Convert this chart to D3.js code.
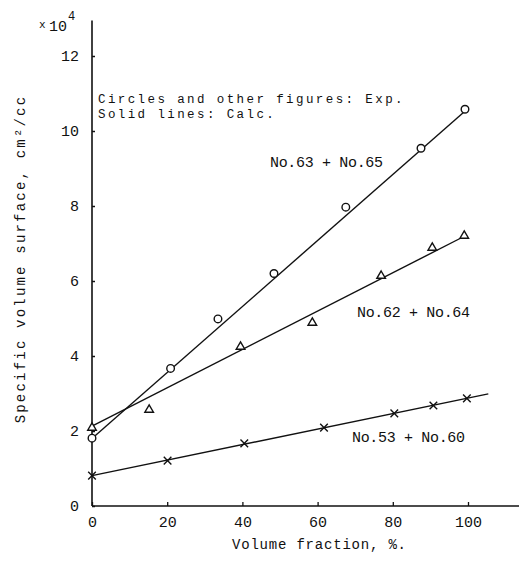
<!DOCTYPE html>
<html>
<head>
<meta charset="utf-8">
<script src="https://cdn.jsdelivr.net/npm/d3@7"></script>
<style>
  body { margin: 0; background: #fff; }
  svg text { font-family: 'Liberation Mono', 'Courier New', monospace; fill: #111; }
</style>
</head>
<body>
<div class="chart"></div>
<script>
// measured points (Exp.)
const circles63 = [[0, 1.81], [20.9, 3.67], [33.5, 4.99], [48.4, 6.2], [67.5, 7.97], [87.5, 9.54], [99.2, 10.58]];
const triangles62 = [[0, 2.11], [15.2, 2.59], [39.5, 4.27], [58.6, 4.91], [76.9, 6.16], [90.5, 6.91], [99, 7.23]];
const crosses53 = [[0, 0.81], [20.1, 1.21], [40.5, 1.67], [61.7, 2.09], [80.4, 2.47], [90.8, 2.68], [99.7, 2.87]];

// calculated lines
const calc63 = [[0, 1.8], [100, 10.6]];
const calc62 = [[0, 2.13], [98, 7.14]];
const calc53 = [[0, 0.81], [105.4, 2.99]];

const xTicks = [0, 20, 40, 60, 80, 100];
const yTicks = [0, 2, 4, 6, 8, 10, 12];

const width = 519;
const height = 564;

const svg = d3
  .select('.chart')
  .append('svg')
  .attr('width', width)
  .attr('height', height);

const xScale = d3.scaleLinear().domain([0, 100]).range([92, 468]);
const yScale = d3.scaleLinear().domain([0, 12]).range([506, 56]);

// axis lines
svg.append('line')
  .attr('x1', xScale(0)).attr('x2', xScale(0))
  .attr('y1', yScale(0)).attr('y2', yScale(12.95))
  .attr('stroke', '#111').attr('stroke-width', 1.6);
svg.append('line')
  .attr('x1', xScale(0)).attr('x2', xScale(114))
  .attr('y1', yScale(0)).attr('y2', yScale(0))
  .attr('stroke', '#111').attr('stroke-width', 1.6);

// y axis
const yAxis = d3.axisLeft(yScale).tickValues(yTicks).tickSize(-3).tickPadding(13);
svg.append('g')
  .attr('transform', `translate(${xScale(0)},0)`)
  .call(yAxis)
  .call((g) => g.select('.domain').remove())
  .call((g) => g.selectAll('.tick line').attr('stroke', '#111').attr('stroke-width', 1.5))
  .call((g) => g.selectAll('.tick text').attr('font-size', 15).attr('font-family', "'Liberation Mono', monospace"));

// x axis
const xAxis = d3.axisBottom(xScale).tickValues(xTicks).tickSize(-4).tickPadding(10);
svg.append('g')
  .attr('transform', `translate(0,${yScale(0)})`)
  .call(xAxis)
  .call((g) => g.select('.domain').remove())
  .call((g) => g.selectAll('.tick line').attr('stroke', '#111').attr('stroke-width', 1.3))
  .call((g) => g.selectAll('.tick text').attr('font-size', 15).attr('font-family', "'Liberation Mono', monospace"));

// x10^4
svg.append('text').attr('x', 39).attr('y', 28).attr('font-size', 11).text('x');
svg.append('text').attr('x', 49).attr('y', 31).attr('font-size', 15).text('10');
svg.append('text').attr('x', 68).attr('y', 20).attr('font-size', 12).text('4');

// axis titles
svg.append('text')
  .attr('transform', 'translate(25,259) rotate(-90)')
  .attr('text-anchor', 'middle')
  .attr('font-size', 14)
  .attr('letter-spacing', 2.2)
  .text('Specific volume surface, cm²/cc');

svg.append('text')
  .attr('x', 232)
  .attr('y', 549)
  .attr('font-size', 14)
  .attr('letter-spacing', 0.8)
  .text('Volume fraction, %.');

// note
svg.append('text').attr('x', 98).attr('y', 103).attr('font-size', 12.5).attr('letter-spacing', 2.4)
  .text('Circles and other figures: Exp.');
svg.append('text').attr('x', 98).attr('y', 118).attr('font-size', 12.5).attr('letter-spacing', 2.4)
  .text('Solid lines: Calc.');

// calc lines
const line = d3.line().x((d) => xScale(d[0])).y((d) => yScale(d[1]));
[calc63, calc62, calc53].forEach((c) => {
  svg.append('path')
    .attr('d', line(c))
    .attr('fill', 'none')
    .attr('stroke', '#111')
    .attr('stroke-width', 1.4);
});

// markers
svg.selectAll('circle.exp')
  .data(circles63)
  .join('circle')
  .attr('class', 'exp')
  .attr('cx', (d) => xScale(d[0]))
  .attr('cy', (d) => yScale(d[1]))
  .attr('r', 3.8)
  .attr('fill', '#fff')
  .attr('stroke', '#111')
  .attr('stroke-width', 1.4);

svg.selectAll('path.tri')
  .data(triangles62)
  .join('path')
  .attr('class', 'tri')
  .attr('transform', (d) => `translate(${xScale(d[0])},${yScale(d[1])})`)
  .attr('d', 'M0,-4L4.3,3.3L-4.3,3.3Z')
  .attr('fill', '#fff')
  .attr('stroke', '#111')
  .attr('stroke-width', 1.4);

svg.selectAll('path.cross')
  .data(crosses53)
  .join('path')
  .attr('class', 'cross')
  .attr('transform', (d) => `translate(${xScale(d[0])},${yScale(d[1])})`)
  .attr('d', 'M-3.8,-3.8L3.8,3.8M-3.8,3.8L3.8,-3.8')
  .attr('fill', 'none')
  .attr('stroke', '#111')
  .attr('stroke-width', 1.4);

// series labels
const labels = [
  { text: 'No.63 + No.65', x: 270, y: 167 },
  { text: 'No.62 + No.64', x: 357, y: 317 },
  { text: 'No.53 + No.60', x: 352, y: 442 }
];
svg.selectAll('text.series')
  .data(labels)
  .join('text')
  .attr('class', 'series')
  .attr('x', (d) => d.x)
  .attr('y', (d) => d.y)
  .attr('font-size', 15)
  .attr('textLength', 113)
  .attr('lengthAdjust', 'spacing')
  .text((d) => d.text);
</script>
</body>
</html>
